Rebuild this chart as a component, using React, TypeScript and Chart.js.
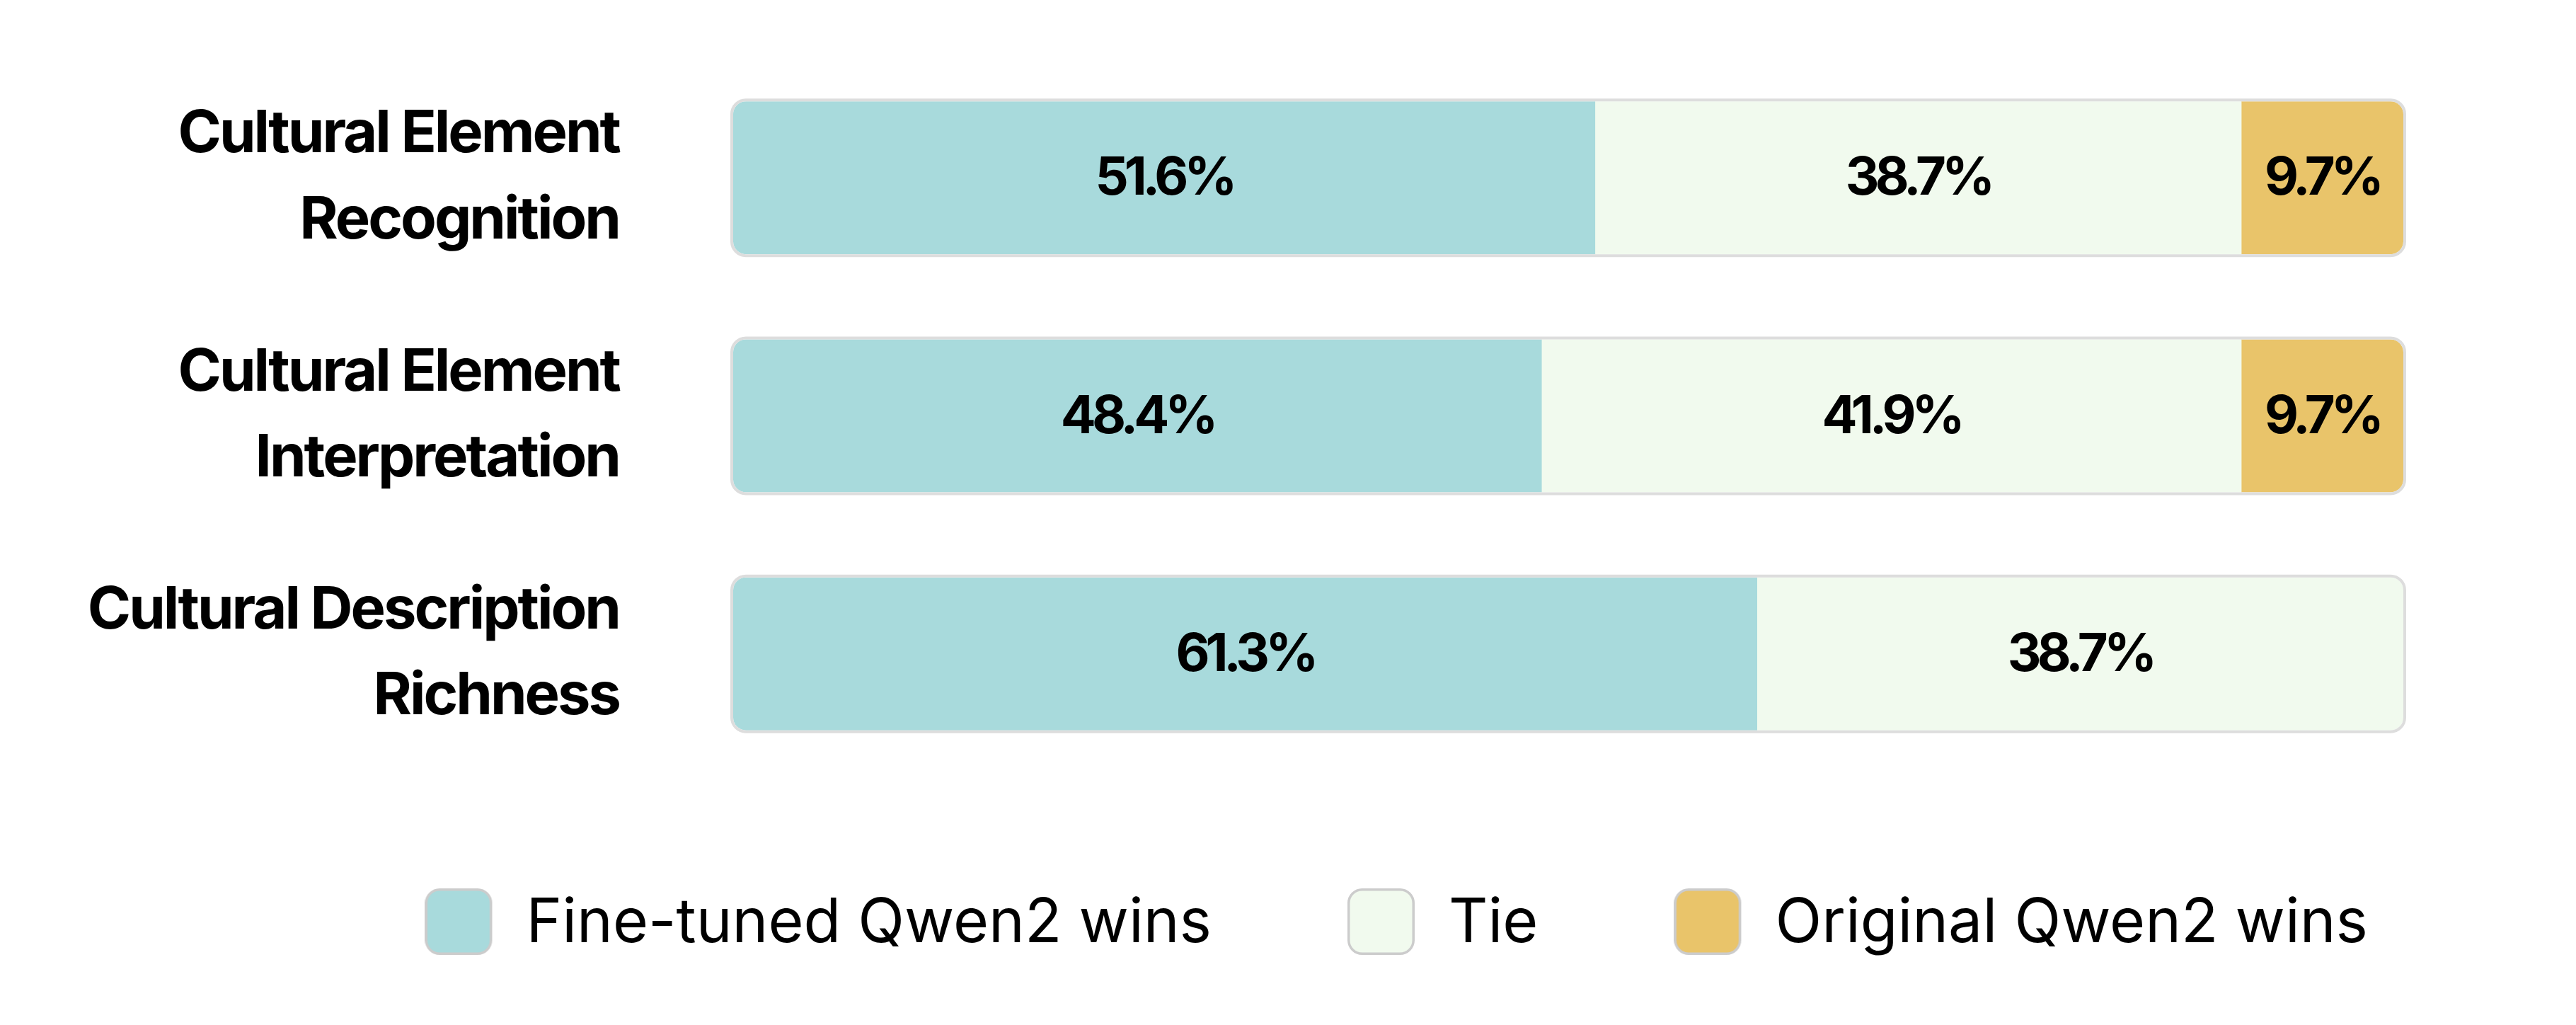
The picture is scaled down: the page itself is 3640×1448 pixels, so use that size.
import React, { useEffect, useRef } from 'react';
import { Chart, registerables } from 'chart.js';

Chart.register(...registerables);

// ---- data ----
const categories: string[][] = [
  ['Cultural Element', 'Recognition'],
  ['Cultural Element', 'Interpretation'],
  ['Cultural Description', 'Richness'],
];
const seriesNames = ['Fine-tuned Qwen2 wins', 'Tie', 'Original Qwen2 wins'];
const fineTunedWins = [51.6, 48.4, 61.3];
const ties = [38.7, 41.9, 38.7];
const originalWins = [9.7, 9.7, 0];
const seriesColors = ['#A8DADC', '#F1FAEE', '#E9C46A'];

const FONT = 'Inter';
const BOLD_SPACING = '-3px';
const VALUE_SPACING = '-6px';

function makeSwatch(color: string): HTMLCanvasElement {
  const c = document.createElement('canvas');
  c.width = 100;
  c.height = 100;
  const g = c.getContext('2d')!;
  g.beginPath();
  g.roundRect(1.75, 1.75, 91.5, 90.5, 19);
  g.fillStyle = color;
  g.fill();
  g.strokeStyle = '#cccccc';
  g.lineWidth = 3.5;
  g.stroke();
  return c;
}

const framePlugin = {
  id: 'frameAndLabels',
  beforeUpdate(chart: any) {
    chart.ctx.letterSpacing = '0px';
  },
  beforeDraw(chart: any) {
    chart.ctx.letterSpacing = '0px';
  },
  beforeDatasetsDraw(chart: any) {
    const ctx = chart.ctx;
    const xs = chart.scales.x;
    const left = xs.getPixelForValue(0);
    const right = xs.getPixelForValue(100);
    ctx.save();
    ctx.beginPath();
    chart.getDatasetMeta(0).data.forEach((bar: any) => {
      const p = bar.getProps(['y', 'height'], true);
      ctx.roundRect(left, p.y - p.height / 2, right - left, p.height, 18);
    });
    ctx.clip();
  },
  afterDatasetsDraw(chart: any) {
    const ctx = chart.ctx;
    ctx.restore();
    const xs = chart.scales.x;
    const left = xs.getPixelForValue(0);
    const right = xs.getPixelForValue(100);
    ctx.save();
    ctx.strokeStyle = '#dddddd';
    ctx.lineWidth = 4;
    chart.getDatasetMeta(0).data.forEach((bar: any) => {
      const p = bar.getProps(['y', 'height'], true);
      ctx.beginPath();
      ctx.roundRect(left - 2, p.y - p.height / 2 - 2, right - left + 4, p.height + 4, 20);
      ctx.stroke();
    });
    ctx.font = `bold 74px ${FONT}`;
    ctx.letterSpacing = VALUE_SPACING;
    ctx.fillStyle = '#000000';
    ctx.textAlign = 'center';
    ctx.textBaseline = 'middle';
    chart.data.datasets.forEach((ds: any, di: number) => {
      const meta = chart.getDatasetMeta(di);
      meta.data.forEach((bar: any, i: number) => {
        const v = ds.data[i].x;
        if (!v) return;
        const p = bar.getProps(['x', 'y', 'base'], true);
        ctx.fillText(v.toFixed(1) + '%', (p.x + p.base) / 2, p.y + 2);
      });
    });
    ctx.restore();
    // tick labels (z = 1) are drawn after this hook
    ctx.letterSpacing = BOLD_SPACING;
  },
  afterDraw(chart: any) {
    chart.ctx.letterSpacing = '0px';
  },
};

export default function App() {
  const ref = useRef<HTMLCanvasElement>(null);
  useEffect(() => {
    let chart: Chart | null = null;
    let cancelled = false;
    const build = () => {
      if (cancelled || !ref.current) return;
      const series = [fineTunedWins, ties, originalWins];
      const swatches = seriesColors.map(makeSwatch);
      chart = new Chart(ref.current, {
        type: 'bar',
        data: {
          datasets: series.map((vals, si) => ({
            label: seriesNames[si],
            data: vals.map((v, i) => ({ x: v, y: i })),
            backgroundColor: seriesColors[si],
            borderWidth: 0,
            barThickness: 216,
          })),
        } as any,
        options: {
          indexAxis: 'y',
          animation: false,
          responsive: true,
          maintainAspectRatio: false,
          layout: { padding: { top: 83, bottom: 90, left: 0, right: 102 } },
          scales: {
            x: { type: 'linear', stacked: true, min: 0, max: 100, display: false },
            y: {
              type: 'linear',
              stacked: true,
              reverse: true,
              offset: false,
              min: -0.5,
              max: 2.4353,
              grid: { display: false },
              border: { display: false },
              afterFit: (s: any) => {
                s.width = 1036;
                s.paddingTop = 0;
                s.paddingBottom = 0;
              },
              ticks: {
                z: 1,
                stepSize: 1,
                autoSkip: false,
                padding: 153,
                color: '#000000',
                font: { family: FONT, weight: 'bold', size: 83, lineHeight: 1.46 },
                callback: (v: any) => (Number.isInteger(v) && categories[v] ? categories[v] : null),
              },
            },
            y2: {
              type: 'linear',
              position: 'right',
              display: true,
              grid: { display: false },
              border: { display: false },
              ticks: { display: false },
              afterFit: (s: any) => {
                s.width = 142;
                s.paddingTop = 0;
                s.paddingBottom = 0;
              },
            },
          },
          plugins: {
            tooltip: { enabled: false },
            legend: {
              position: 'bottom',
              align: 'end',
              labels: {
                usePointStyle: true,
                pointStyleWidth: 100,
                padding: 192,
                color: '#000000',
                font: { family: FONT, size: 86 },
                generateLabels: () =>
                  seriesNames.map((n, i) => ({
                    text: n,
                    fillStyle: seriesColors[i],
                    strokeStyle: '#cccccc',
                    lineWidth: 0,
                    pointStyle: swatches[i],
                    hidden: false,
                    datasetIndex: i,
                    fontColor: '#000000',
                  })),
              },
            },
          },
        } as any,
        plugins: [framePlugin],
      });
    };
    Promise.all([
      document.fonts.load(`bold 83px ${FONT}`),
      document.fonts.load(`86px ${FONT}`),
    ]).then(build, build);
    return () => {
      cancelled = true;
      if (chart) chart.destroy();
    };
  }, []);
  return (
    <div style={{ position: 'absolute', left: 0, top: 0, width: '3640px', height: '1448px', background: '#fff' }}>
      <canvas ref={ref} />
    </div>
  );
}
